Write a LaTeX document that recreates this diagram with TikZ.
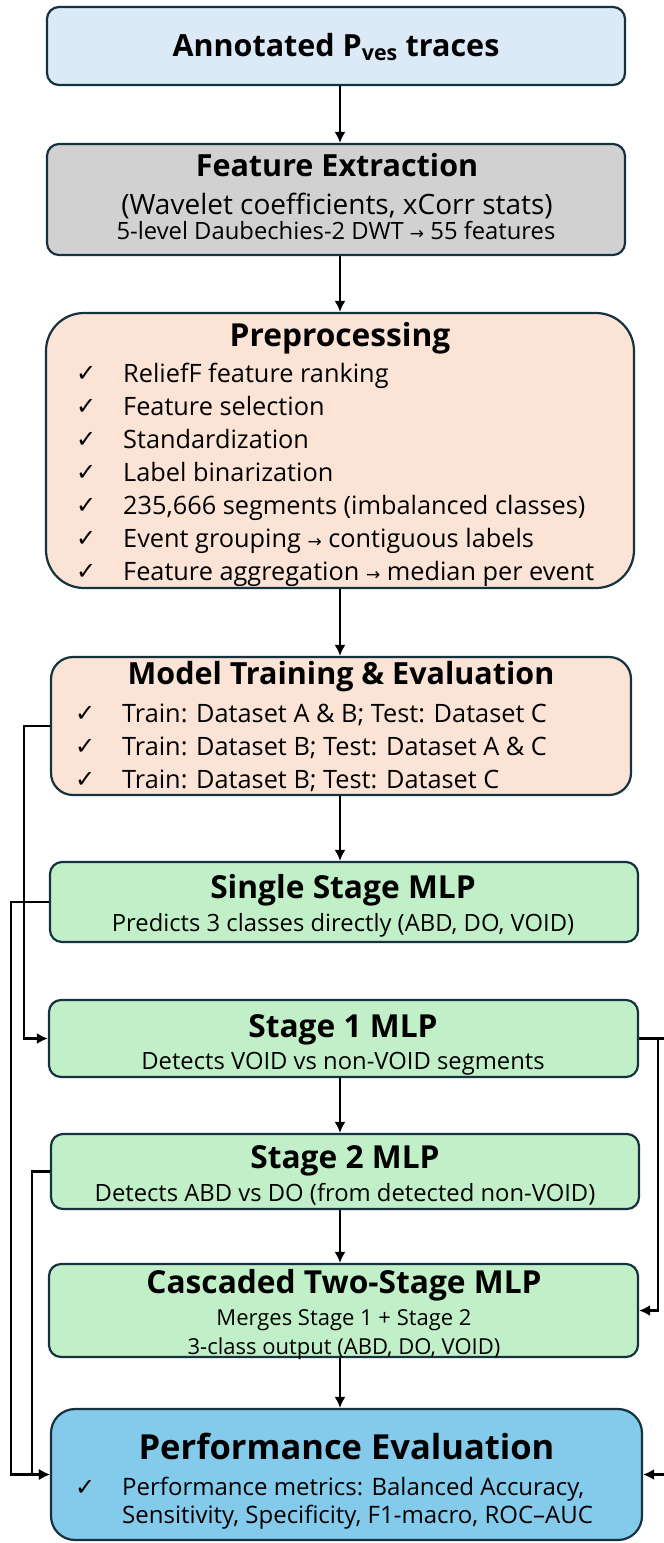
\documentclass[tikz,border=0pt]{standalone}
\usepackage{fontspec}
\setmainfont{Open Sans}
\newfontfamily\symfont{DejaVu Sans}
\usetikzlibrary{arrows.meta,calc}
\definecolor{bordercol}{HTML}{16323F}
\definecolor{bluefill}{HTML}{DCE9F7}
\definecolor{grayfill}{HTML}{D1D1D1}
\definecolor{peachfill}{HTML}{FBE3D6}
\definecolor{greenfill}{HTML}{C1F0C8}
\definecolor{perffill}{HTML}{84CAEA}
\newcommand{\ckm}{{\symfont\fontsize{24}{24}\selectfont ✓}}
\newcommand{\rarr}{{\symfont\fontsize{17}{17}\selectfont →}}
\begin{document}
\begin{tikzpicture}[x=1pt,y=-1pt,
  box/.style={draw=bordercol,line width=2.2pt,inner sep=0pt},
  txt/.style={inner sep=0pt,anchor=center,text depth=0pt},
  ttl/.style={txt,font=\bfseries\fontsize{30.5}{30.5}\selectfont,text height=21.8pt},
  ttlb/.style={txt,font=\bfseries\fontsize{31.7}{31.7}\selectfont,text height=22.6pt},
  bigttl/.style={txt,font=\bfseries\fontsize{34.5}{34.5}\selectfont,text height=24.6pt},
  sub/.style={txt,font=\fontsize{28}{28}\selectfont,text height=20pt},
  small/.style={txt,font=\fontsize{23.8}{23.8}\selectfont,text height=17pt},
  smaller/.style={txt,font=\fontsize{22}{22}\selectfont,text height=15.7pt},
  item/.style={txt,anchor=west,font=\fontsize{25.3}{25.3}\selectfont,text height=18pt},
  itemb/.style={txt,anchor=west,font=\fontsize{25.3}{25.3}\selectfont,text height=18pt},
  itemc/.style={txt,anchor=west,font=\fontsize{24}{24}\selectfont,text height=17.1pt},
  chk/.style={inner sep=0pt,anchor=west,text height=16pt,text depth=0pt},
  arr/.style={draw=black,line width=2.2pt,-{Latex[length=11pt,width=11pt]}},
  ln/.style={draw=black,line width=2.2pt}]
\useasboundingbox (0,0) rectangle (664,1543);
\fill[white] (0,0) rectangle (664,1543);
% boxes
\node[box,fill=bluefill,rounded corners=12pt,minimum width=578pt,minimum height=78pt] (A) at (336,46) {};
\node[box,fill=grayfill,rounded corners=12pt,minimum width=578pt,minimum height=111pt] (FE) at (336,199.5) {};
\node[box,fill=peachfill,rounded corners=38pt,minimum width=588pt,minimum height=275pt] (PP) at (340,450.5) {};
\node[box,fill=peachfill,rounded corners=22pt,minimum width=580pt,minimum height=138pt] (MT) at (341,726) {};
\node[box,fill=greenfill,rounded corners=12pt,minimum width=588pt,minimum height=80pt] (SS) at (344,902) {};
\node[box,fill=greenfill,rounded corners=12pt,minimum width=589pt,minimum height=77pt] (S1) at (343.5,1038.5) {};
\node[box,fill=greenfill,rounded corners=12pt,minimum width=588pt,minimum height=75pt] (S2) at (345,1171.5) {};
\node[box,fill=greenfill,rounded corners=12pt,minimum width=589pt,minimum height=93pt] (CT) at (343.5,1310.5) {};
\node[box,fill=perffill,rounded corners=24pt,minimum width=591pt,minimum height=131pt] (PE) at (346.5,1474.5) {};
% texts
\node[ttl] (tA) at (336,46) {Annotated P\textsubscript{ves} traces};
\node[ttl] (tFE) at (337,166) {Feature Extraction};
\node[sub] (tFE1) at (337,204) {(Wavelet coefficients, xCorr stats)};
\node[small] (tFE2) at (336,231) {5-level Daubechies-2 DWT \rarr{} 55 features};
\node[ttlb] (tPP) at (340,335) {Preprocessing};
\foreach \t [count=\i] in {ReliefF feature ranking,Feature selection,Standardization,Label binarization,{235,666 segments (imbalanced classes)},Event grouping \rarr{} contiguous labels,Feature aggregation \rarr{} median per event}{
  \node[chk] (cPP\i) at (76,340+33*\i) {\ckm};
  \node[item] (iPP\i) at (123,340+33*\i) {\t};
}
\node[ttl] (tMT) at (341,674) {Model Training \& Evaluation};
\foreach \t [count=\i] in {Train: Dataset A \& B; Test: Dataset C,Train: Dataset B; Test: Dataset A \& C,Train: Dataset B; Test: Dataset C}{
  \node[chk] (cMT\i) at (75,680+33*\i) {\ckm};
  \node[itemb] (iMT\i) at (122,680+33*\i) {\t};
}
\node[ttlb] (tSS) at (343,887) {Single Stage MLP};
\node[small] (dSS) at (343,923) {Predicts 3 classes directly (ABD, DO, VOID)};
\node[ttlb] (tS1) at (343,1026) {Stage 1 MLP};
\node[small] (dS1) at (343,1061) {Detects VOID vs non-VOID segments};
\node[ttlb] (tS2) at (345,1157) {Stage 2 MLP};
\node[small] (dS2) at (345,1193) {Detects ABD vs DO (from detected non-VOID)};
\node[ttlb] (tCT) at (344,1282) {Cascaded Two-Stage MLP};
\node[smaller] (dCT1) at (344,1318) {Merges Stage 1 + Stage 2};
\node[smaller] (dCT2) at (344,1347) {3-class output (ABD, DO, VOID)};
\node[bigttl] (tPE) at (346.5,1447) {Performance Evaluation};
\node[chk] (cPE) at (75,1487) {\ckm};
\node[itemc] (iPE1) at (122,1487) {Performance metrics: Balanced Accuracy,};
\node[itemc] (iPE2) at (122,1515) {Sensitivity, Specificity, F1-macro, ROC--AUC};
% connector columns
\coordinate (spine) at (340,0);
\coordinate (l1) at (24,0);
\coordinate (l2) at (11,0);
\coordinate (l3) at (32,0);
\coordinate (r1) at (658,0);
\coordinate (r2) at (672,0);
% central arrows
\draw[arr] (A.south -| spine) -- (FE.north -| spine);
\draw[arr] (FE.south -| spine) -- (PP.north -| spine);
\draw[arr] (PP.south -| spine) -- (MT.north -| spine);
\draw[arr] (MT.south -| spine) -- (SS.north -| spine);
\draw[arr] (S1.south -| spine) -- (S2.north -| spine);
\draw[arr] (S2.south -| spine) -- (CT.north -| spine);
\draw[arr] (CT.south -| spine) -- (PE.north -| spine);
% left connectors
\draw[arr] (MT.west) -- (MT.west -| l1) |- (S1.west);
\draw[arr] (SS.west) -- (SS.west -| l2) |- (PE.west);
\draw[arr] (S2.west) -- (S2.west -| l3) |- (PE.west);
% right connectors
\draw[arr] (S1.east) -- (S1.east -| r1) |- (CT.east);
\draw[arr] (S1.east) -- (S1.east -| r2) |- (PE.east);
\end{tikzpicture}
\end{document}
